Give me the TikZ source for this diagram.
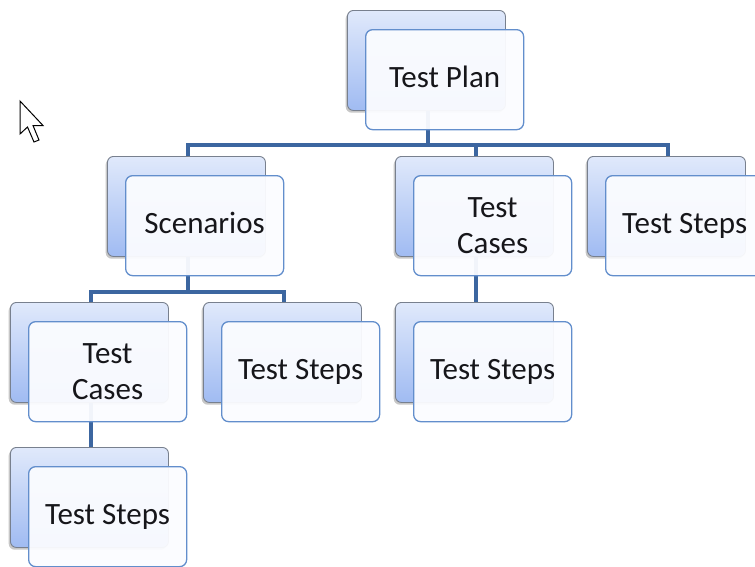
\documentclass[tikz,border=0pt]{standalone}
\usepackage{fontspec}
\setmainfont{Carlito}
\definecolor{bktop}{RGB}{224,233,251}
\definecolor{bkbot}{RGB}{160,187,242}
\definecolor{bkline}{RGB}{120,128,142}
\definecolor{frborder}{RGB}{98,142,204}
\definecolor{frfill}{RGB}{251,252,255}
\definecolor{connc}{RGB}{60,102,160}
\definecolor{txt}{RGB}{22,22,26}
\begin{document}
\begin{tikzpicture}[x=1pt,y=-1pt,
  boxsize/.style={minimum width=158pt, minimum height=100pt, inner sep=0pt, anchor=north west},
  shadowbox/.style={boxsize, rounded corners=6pt, fill=black, opacity=0.22},
  backbox/.style={boxsize, draw=bkline, line width=0.9pt, rounded corners=6pt,
    top color=bktop, bottom color=bkbot},
  frontbox/.style={boxsize, draw=frborder, line width=1.3pt, rounded corners=7pt,
    fill=frfill, fill opacity=0.95, text opacity=1, text=txt, align=center,
    font=\fontsize{31}{36}\selectfont},
  % single-line labels without descenders sit on the same centre line
  flatlabel/.style={text depth=6.5pt},
  conn/.style={draw=connc, line width=4pt, line join=miter},
  cursor/.style={draw=black, line width=1pt, fill=white, line join=miter}]

\useasboundingbox (0,0) rectangle (755,566);
\clip (0,0) rectangle (755,566);
\fill[white] (0,0) rectangle (755,566);

% bus heights of the two branching levels
\coordinate (busA) at (0,145);
\coordinate (busB) at (0,292);

% shadows and back cards
\foreach \nm/\x/\y in {plan/347/10, scen/107/156, cases1/395/156, steps1/587/156,
                       cases2/10/302, steps2/203/302, steps3/395/302, steps4/10/447} {
  \node[shadowbox] (\nm-s) at (\x-1.5,\y+2.5) {};
  \node[backbox] (\nm-b) at (\x,\y) {};
}

% connectors, drawn behind the translucent front cards
\draw[conn] ([xshift=1.5pt]plan-b.south) -- ([xshift=1.5pt]plan-b.south |- busA);
\draw[conn] ([xshift=1.5pt]scen-b.north) -- ([xshift=1.5pt]scen-b.north |- busA)
  -- ([xshift=1.5pt]steps1-b.north |- busA) -- ([xshift=1.5pt]steps1-b.north);
\draw[conn] ([xshift=1.5pt]cases1-b.north) -- ([xshift=1.5pt]cases1-b.north |- busA);

\draw[conn] ([xshift=1.5pt]scen-b.south) -- ([xshift=1.5pt]scen-b.south |- busB);
\draw[conn] ([xshift=1.5pt]cases2-b.north) -- ([xshift=1.5pt]cases2-b.north |- busB)
  -- ([xshift=1.5pt]steps2-b.north |- busB) -- ([xshift=1.5pt]steps2-b.north);

\draw[conn] ([xshift=1.5pt]cases1-b.south) -- ([xshift=1.5pt]steps3-b.north);
\draw[conn] ([xshift=1.5pt]cases2-b.south) -- ([xshift=1.5pt]steps4-b.north);

% front cards with the labels
\node[frontbox, flatlabel] (plan) at (365,29)  {Test Plan};
\node[frontbox, flatlabel] (scen) at (125,175) {Scenarios};
\node[frontbox] (cases1) at (413,175) {Test\\Cases};
\node[frontbox] (steps1) at (605,175) {Test Steps};
\node[frontbox] (cases2) at (28,321)  {Test\\Cases};
\node[frontbox] (steps2) at (221,321) {Test Steps};
\node[frontbox] (steps3) at (413,321) {Test Steps};
\node[frontbox] (steps4) at (28,466)  {Test Steps};

% mouse pointer
\draw[cursor] (20,101) -- (20,134) -- (27.5,127) -- (34,142) -- (39,140)
  -- (33,125.5) -- (43,125.5) -- cycle;
\end{tikzpicture}
\end{document}
